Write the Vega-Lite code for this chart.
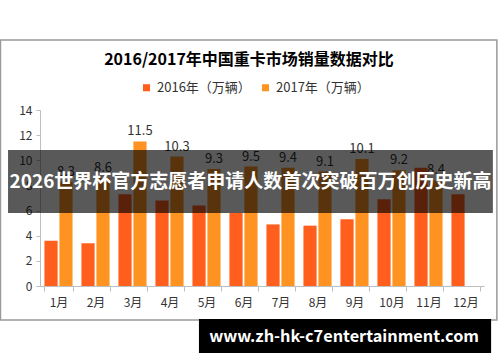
{
  "$schema": "https://vega.github.io/schema/vega-lite/v6.json",
  "width": 444,
  "height": 176,
  "autosize": {"type": "none"},
  "padding": {"left": 40, "top": 110, "right": 16, "bottom": 76},
  "background": "white",
  "config": {
    "view": {"stroke": null},
    "font": "Noto Sans CJK SC",
    "axisY": {"title": null, "grid": false, "domainColor": "#bfbfbf", "tickColor": "#bfbfbf", "tickSize": 4, "labelFontSize": 12, "labelColor": "#333333", "labelPadding": 4, "values": [0, 2, 4, 6, 8, 10, 12, 14]},
    "axisX": {"title": null}
  },
  "title": {"text": "2016/2017年中国重卡市场销量数据对比", "fontSize": 16, "fontWeight": "bold", "color": "#000000", "anchor": "middle", "frame": "group", "dx": -13, "offset": -29},
  "layer": [
    {
      "data": {"values": [{"x0": -0.089, "x1": 1.029, "y0": 19.57, "y1": -2.7}]},
      "mark": {"type": "rect", "fill": null, "stroke": "#9a9a9a", "strokeWidth": 1.5},
      "encoding": {
        "x": {"field": "x0", "type": "quantitative", "scale": {"domain": [0, 1], "nice": false, "zero": false}, "axis": null},
        "x2": {"field": "x1"},
        "y": {"field": "y0", "type": "quantitative", "scale": {"domain": [0, 14], "nice": false}},
        "y2": {"field": "y1"}
      }
    },
    {
      "data": {"values": [
        {"month": "1月", "year": "2016年（万辆）", "value": 3.6},
        {"month": "2月", "year": "2016年（万辆）", "value": 3.4},
        {"month": "3月", "year": "2016年（万辆）", "value": 7.3},
        {"month": "4月", "year": "2016年（万辆）", "value": 6.8},
        {"month": "5月", "year": "2016年（万辆）", "value": 6.4},
        {"month": "6月", "year": "2016年（万辆）", "value": 5.8},
        {"month": "7月", "year": "2016年（万辆）", "value": 4.9},
        {"month": "8月", "year": "2016年（万辆）", "value": 4.8},
        {"month": "9月", "year": "2016年（万辆）", "value": 5.3},
        {"month": "10月", "year": "2016年（万辆）", "value": 6.9},
        {"month": "11月", "year": "2016年（万辆）", "value": 9.4},
        {"month": "12月", "year": "2016年（万辆）", "value": 7.3},
        {"month": "1月", "year": "2017年（万辆）", "value": 8.3},
        {"month": "2月", "year": "2017年（万辆）", "value": 8.6},
        {"month": "3月", "year": "2017年（万辆）", "value": 11.5},
        {"month": "4月", "year": "2017年（万辆）", "value": 10.3},
        {"month": "5月", "year": "2017年（万辆）", "value": 9.3},
        {"month": "6月", "year": "2017年（万辆）", "value": 9.5},
        {"month": "7月", "year": "2017年（万辆）", "value": 9.4},
        {"month": "8月", "year": "2017年（万辆）", "value": 9.1},
        {"month": "9月", "year": "2017年（万辆）", "value": 10.1},
        {"month": "10月", "year": "2017年（万辆）", "value": 9.2},
        {"month": "11月", "year": "2017年（万辆）", "value": 8.4}
      ]},
      "encoding": {
        "x": {"field": "month", "type": "nominal", "sort": ["1月","2月","3月","4月","5月","6月","7月","8月","9月","10月","11月","12月"],
              "scale": {"paddingInner": 0.24, "paddingOuter": 0.12},
              "axis": {"labelAngle": 0, "tickBand": "extent", "domainColor": "#bfbfbf", "tickColor": "#bfbfbf", "tickSize": 5, "labelFontSize": 12, "labelColor": "#333333", "labelPadding": 6}},
        "xOffset": {"field": "year", "type": "nominal", "scale": {"paddingInner": 0.12, "paddingOuter": 0}},
        "y": {"field": "value", "type": "quantitative", "scale": {"domain": [0, 14], "nice": false}}
      },
      "layer": [
        {
          "mark": {"type": "bar"},
          "encoding": {
            "color": {"field": "year", "type": "nominal",
              "scale": {"domain": ["2016年（万辆）", "2017年（万辆）"], "range": ["#ff5e1c", "#ff9322"]},
              "legend": {"title": null, "orient": "none", "legendX": 100, "legendY": -29, "direction": "horizontal", "symbolType": "square", "symbolSize": 50, "labelFontSize": 13, "labelColor": "#333333", "columnPadding": 8, "symbolStrokeWidth": 0}}
          }
        },
        {
          "transform": [{"filter": "datum.year == '2017年（万辆）'"}],
          "mark": {"type": "text", "dy": -10, "fontSize": 13, "color": "#333333"},
          "encoding": {"text": {"field": "value", "type": "quantitative", "format": ".1f"}}
        }
      ]
    },
    {
      "data": {"values": [
        {"x0": -0.072, "x1": 1.02, "y0": 10.82, "y1": 5.81, "op": 0.65},
        {"x0": 0.358, "x1": 1.016, "y0": -2.63, "y1": -5.33, "op": 1}
      ]},
      "mark": {"type": "rect"},
      "encoding": {
        "x": {"field": "x0", "type": "quantitative", "scale": {"domain": [0, 1], "nice": false, "zero": false}, "axis": null},
        "x2": {"field": "x1"},
        "y": {"field": "y0", "type": "quantitative", "scale": {"domain": [0, 14], "nice": false}},
        "y2": {"field": "y1"},
        "color": {"value": "black"},
        "opacity": {"field": "op", "type": "quantitative", "scale": null, "legend": null}
      }
    },
    {
      "data": {"values": [
        {"x": 0.474, "y": 8.31, "label": "2026世界杯官方志愿者申请人数首次突破百万创历史新高", "size": 19},
        {"x": 0.685, "y": -4.03, "label": "www.zh-hk-c7entertainment.com", "size": 16.3}
      ]},
      "mark": {"type": "text", "color": "white", "fontWeight": "bold", "align": "center", "baseline": "middle"},
      "encoding": {
        "x": {"field": "x", "type": "quantitative", "scale": {"domain": [0, 1], "nice": false, "zero": false}, "axis": null},
        "y": {"field": "y", "type": "quantitative", "scale": {"domain": [0, 14], "nice": false}},
        "text": {"field": "label"},
        "size": {"field": "size", "type": "quantitative", "scale": null, "legend": null}
      }
    }
  ],
  "resolve": {"scale": {"x": "independent"}}
}
